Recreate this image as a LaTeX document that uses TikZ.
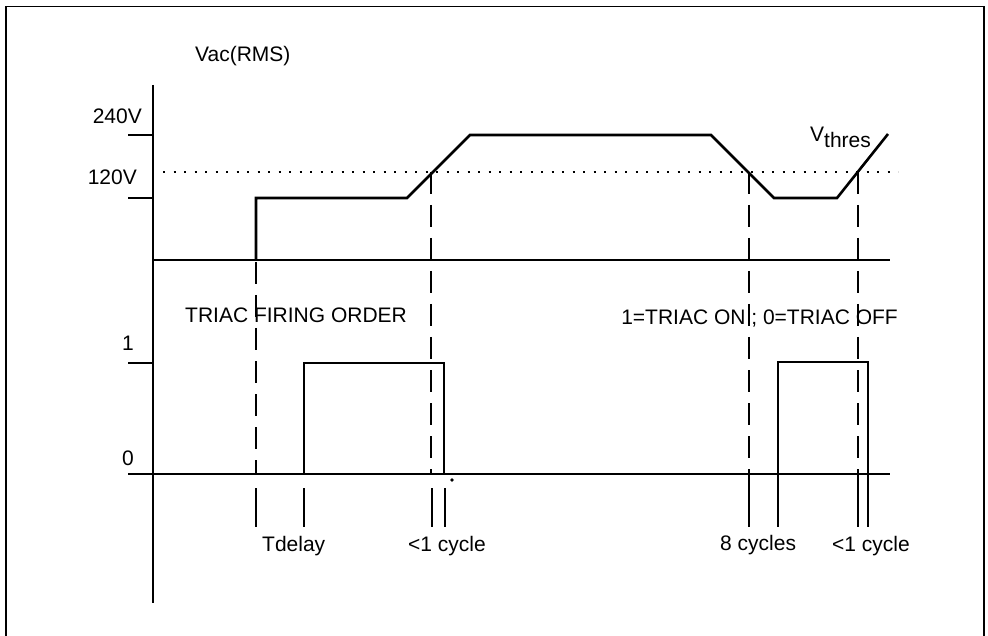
\documentclass[tikz,border=0pt]{standalone}
\usepackage{fontspec}
\setmainfont{Liberation Sans}
\begin{document}
\begin{tikzpicture}[x=1pt,y=-1pt,
  lbl/.style={inner sep=0pt, font=\fontsize{21}{25}\selectfont},
  wave/.style={line width=2.6pt, line join=miter},
  pulse/.style={line width=2pt},
  axisline/.style={line width=2pt},
  guide/.style={line width=1.8pt, dash pattern=on 22pt off 11pt},
  tickline/.style={line width=1.8pt},
  thresline/.style={line width=2.2pt, dash pattern=on 2pt off 8.5pt},
  framel/.style={line width=1.6pt}]
\useasboundingbox (0,0) rectangle (988,636);
% frame (open at the bottom)
\draw[framel] (6,636) -- (6,6.5) -- (984,6.5) -- (984,636);
% vertical axis
\coordinate (axtop) at (153,85);
\coordinate (axbot) at (153,603);
\draw[axisline] (axtop) -- (axbot);
% level ticks
\draw[axisline] (128,135) -- (153,135);
\draw[axisline] (128,198) -- (153,198);
\draw[axisline] (128,363) -- (153,363);
% baselines
\draw[axisline] (153,260) -- (890,260);
\draw[axisline] (128,474) -- (890,474);
% threshold (dotted)
\draw[thresline] (163,172) -- (898,172);
% Vac waveform
\draw[wave] (256,260) -- (256,198) -- (407,198) -- (470,135) -- (711,135)
  -- (774,198) -- (837,198) -- (888,134);
% firing pulses
\draw[pulse] (304,474) -- (304,363) -- (444,363) -- (444,474);
\draw[pulse] (778,474) -- (778,362) -- (868,362) -- (868,474);
% dashed guides
\draw[guide] (256,262) -- (256,474);
\draw[guide] (431,172) -- (431,474);
\draw[guide] (749,172) -- (749,474);
\draw[guide] (858,172) -- (858,474);
% solid markers under the lower baseline
\draw[tickline] (256,488) -- (256,527);
\draw[tickline] (304,488) -- (304,527);
\draw[tickline] (432,488) -- (432,527);
\draw[tickline] (445,488) -- (445,527);
\draw[tickline] (749,474) -- (749,527);
\draw[tickline] (778,474) -- (778,527);
\draw[tickline] (858,474) -- (858,527);
\draw[tickline] (868,474) -- (868,527);
\fill (452,480) circle (1.8pt);
% labels
\node[lbl, anchor=base west] (vac) at (195,62) {Vac(RMS)};
\node[lbl, anchor=base east] (v240) at (142,124) {240V};
\node[lbl, anchor=base east] (v120) at (137,185) {120V};
\node[lbl, anchor=base] (one) at (128,351) {1};
\node[lbl, anchor=base] (zero) at (128,465) {0};
\node[lbl, anchor=base west] (firing) at (185,323) {TRIAC FIRING ORDER};
\node[lbl, anchor=base east] (legend) at (898,325) {1=TRIAC ON ; 0=TRIAC OFF};
\node[lbl, anchor=base west] (vth) at (810,142) {V\raisebox{-6pt}{thres}};
\node[lbl, anchor=base west] (tdelay) at (262,551) {Tdelay};
\node[lbl, anchor=base west] (cyc1) at (408,551) {<1 cycle};
\node[lbl, anchor=base west] (cyc8) at (720,550) {8 cycles};
\node[lbl, anchor=base west] (cyc2) at (832,551) {<1 cycle};
\end{tikzpicture}
\end{document}
